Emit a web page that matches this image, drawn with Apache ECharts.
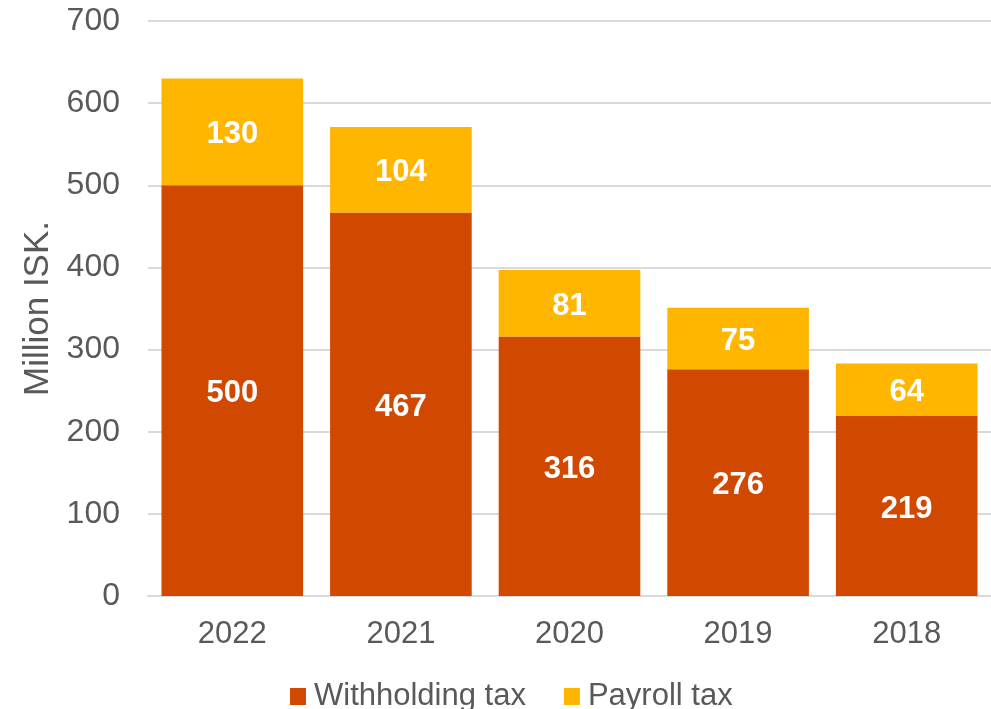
<!DOCTYPE html>
<html>
<head>
<meta charset="utf-8">
<script src="https://cdn.jsdelivr.net/npm/echarts@6/dist/echarts.min.js"></script>
<style>
  html, body { margin: 0; padding: 0; background: #fff; }
  #chart { width: 991px; height: 709px; }
</style>
</head>
<body>
<div id="chart"></div>
<script>
const years = ['2022', '2021', '2020', '2019', '2018']
const withholdingTax = [500, 467, 316, 276, 219]
const payrollTax = [130, 104, 81, 75, 64]

const textColor = '#595959'
const fontFamily = '"Liberation Sans", Arial, sans-serif'

const chart = echarts.init(document.getElementById('chart'))
chart.setOption({
  backgroundColor: '#fff',
  animation: false,
  textStyle: { fontFamily: fontFamily },
  grid: {
    left: 148,
    right: 0,
    top: 21,
    bottom: 113,
    containLabel: false
  },
  legend: {
    bottom: -8,
    left: 285,
    icon: 'rect',
    itemWidth: 16,
    itemHeight: 17,
    itemGap: 38,
    textStyle: { fontSize: 31, color: textColor, fontFamily: fontFamily, padding: [0, 0, 0, 3] },
    data: ['Withholding tax', 'Payroll tax']
  },
  xAxis: {
    type: 'category',
    data: years,
    axisLine: { lineStyle: { color: '#d9d9d9', width: 2 } },
    axisTick: { show: false },
    axisLabel: { fontSize: 31, color: textColor, margin: 23 }
  },
  yAxis: {
    type: 'value',
    min: 0,
    max: 700,
    interval: 100,
    name: 'Million ISK.',
    nameLocation: 'middle',
    nameGap: 88,
    nameTextStyle: { fontSize: 35, color: textColor },
    axisLine: { show: false },
    axisTick: { show: false },
    axisLabel: { fontSize: 32, color: textColor, margin: 28 },
    splitLine: { lineStyle: { color: '#d9d9d9', width: 2 } }
  },
  series: [
    {
      name: 'Withholding tax',
      type: 'bar',
      stack: 'tax',
      barCategoryGap: '16%',
      data: withholdingTax,
      itemStyle: { color: '#d14900' },
      label: { show: true, position: 'inside', offset: [0, 3], color: '#fff', fontSize: 31, fontWeight: 'bold' }
    },
    {
      name: 'Payroll tax',
      type: 'bar',
      stack: 'tax',
      barCategoryGap: '16%',
      data: payrollTax,
      itemStyle: { color: '#ffb600' },
      label: { show: true, position: 'inside', offset: [0, 3], color: '#fff', fontSize: 31, fontWeight: 'bold' }
    }
  ]
})
</script>
</body>
</html>
